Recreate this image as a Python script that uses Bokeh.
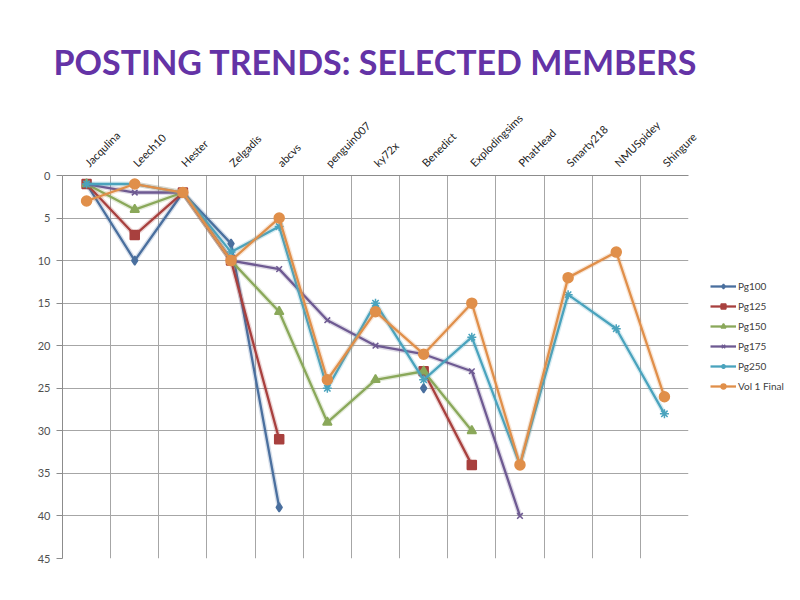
import numpy as np
from bokeh.plotting import figure
from bokeh.models import Range1d, FactorRange, FixedTicker, Grid, Legend, LegendItem
from bokeh.embed import file_html
from bokeh.resources import INLINE
from bokeh.core.properties import value

nan = float("nan")

members = ["Jacqulina", "Leech10", "Hester", "Zelgadis", "abcvs", "penguin007", "ky72x",
           "Benedict", "Explodingsims", "PhatHead", "Smarty218", "NMUSpidey", "Shingure"]
pg100 = [1, 10, 2, 8, 39, nan, nan, 25, nan, nan, nan, nan, nan]
pg125 = [1, 7, 2, 10, 31, nan, nan, 23, 34, nan, nan, nan, nan]
pg150 = [1, 4, 2, 10, 16, 29, 24, 23, 30, nan, nan, nan, nan]
pg175 = [1, 2, 2, 10, 11, 17, 20, 21, 23, 40, nan, nan, nan]
pg250 = [1, 1, 2, 9, 6, 25, 15, 24, 19, 34, 14, 18, 28]
vol1_final = [3, 1, 2, 10, 5, 24, 16, 21, 15, 34, 12, 9, 26]
series_names = ["Pg100", "Pg125", "Pg150", "Pg175", "Pg250", "Vol 1 Final"]
y_ticks = [0, 5, 10, 15, 20, 25, 30, 35, 40, 45]

series = [pg100, pg125, pg150, pg175, pg250, vol1_final]
colors = ["#4a6f9e", "#a8403e", "#8aa85a", "#6e5a92", "#4aa3bd", "#e08f4a"]
markers = ["diamond", "square", "triangle", "x", "asterisk", "circle"]
msizes = [9, 9, 9, 8, 9, 10]

FONT = "Lato"

p = figure(frame_width=626, frame_height=383,
           x_range=FactorRange(*members), y_range=Range1d(45, 0),
           x_axis_location="above",
           output_backend="svg", toolbar_location=None,
           min_border_left=62, min_border_right=112,
           min_border_top=175, min_border_bottom=42)
p.outline_line_color = None
p.background_fill_color = "white"
p.border_fill_color = "white"

p.title.text = "POSTING TRENDS: SELECTED MEMBERS"
p.title.align = "center"
p.title.text_font = FONT
p.title.text_font_size = "34px"
p.title.text_font_style = "bold"
p.title.text_color = "#6433a6"
p.title.standoff = 44
p.title.offset = 10

# grid
p.xgrid.visible = False
p.ygrid.ticker = FixedTicker(ticks=y_ticks)
p.ygrid.grid_line_color = "#a6a6a6"
p.ygrid.grid_line_width = 1
vgrid = Grid(dimension=0, ticker=FixedTicker(ticks=list(range(len(members) + 1))),
             grid_line_color="#a6a6a6", grid_line_width=1)
p.add_layout(vgrid)

# axes
p.yaxis.ticker = FixedTicker(ticks=y_ticks)
p.yaxis.minor_tick_line_color = None
p.yaxis.major_tick_in = 0
p.yaxis.major_tick_out = 6
p.yaxis.axis_line_color = "#8c8c8c"
p.yaxis.major_tick_line_color = "#8c8c8c"
p.yaxis.major_label_text_font = FONT
p.yaxis.major_label_text_font_size = "11px"
p.yaxis.major_label_text_color = "#505050"
p.yaxis.major_label_standoff = 6

p.xaxis.major_label_orientation = np.pi / 4
p.xaxis.major_tick_in = 0
p.xaxis.major_tick_out = 0
p.xaxis.axis_line_color = "#8c8c8c"
p.xaxis.major_label_text_font = FONT
p.xaxis.major_label_text_font_size = "11px"
p.xaxis.major_label_text_color = "#222222"
p.xaxis.major_label_standoff = 11

items = []
for name, ys, c, m, s in zip(series_names, series, colors, markers, msizes):
    glow = p.line(members, ys, line_color=c, line_width=5, line_alpha=0.22)
    ln = p.line(members, ys, line_color=c, line_width=2.3)
    sc = p.scatter(members, ys, marker=m, size=s, fill_color=c, line_color=c, line_width=1.5)
    items.append(LegendItem(label=name, renderers=[ln, sc]))

legend = Legend(items=items, location=(22, 166))
legend.label_text_font = FONT
legend.label_text_font_size = "10px"
legend.label_text_color = "#404040"
legend.glyph_width = 26
legend.glyph_height = 12
legend.spacing = 8
legend.padding = 0
legend.margin = 0
legend.border_line_color = None
legend.background_fill_alpha = 0
legend.label_standoff = 2
p.add_layout(legend, "right")

open("out.html", "w").write(file_html(p, INLINE))
